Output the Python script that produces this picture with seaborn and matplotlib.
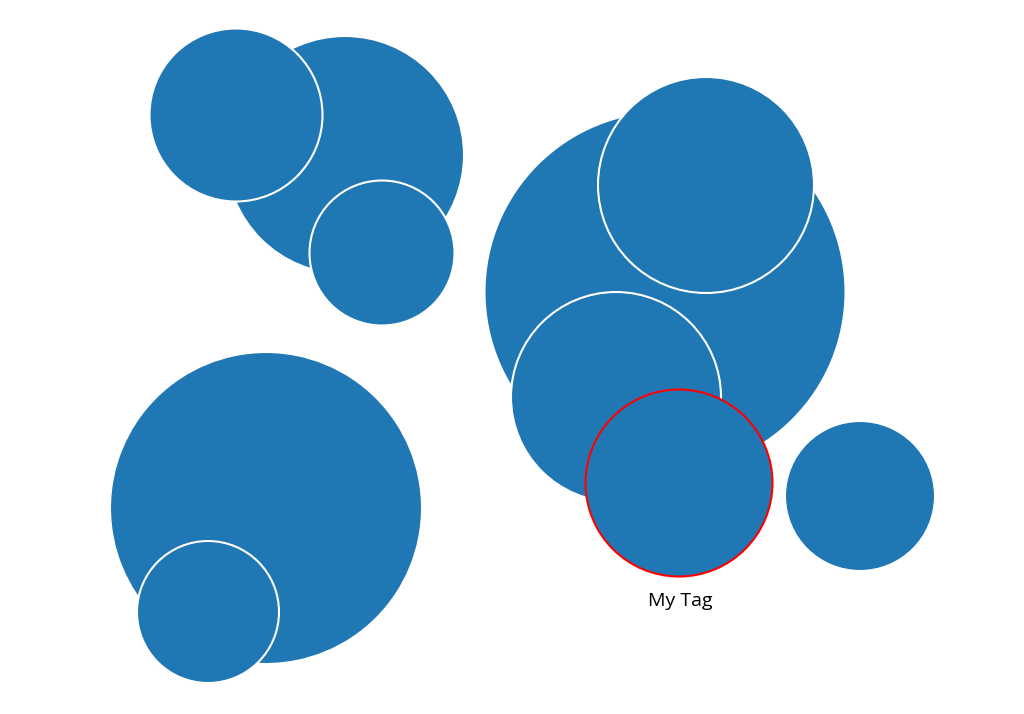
import matplotlib
matplotlib.use("Agg")
import matplotlib.pyplot as plt
import seaborn as sns
import pandas as pd
import numpy as np

sns.set_theme(style="white")
plt.rcParams['font.family'] = ['Open Sans', 'DejaVu Sans']

# bubble data (x, y in canvas units, radius in canvas units)
xs = [345, 236, 382, 665, 706, 616, 679, 860, 266, 208]
ys = [155, 115, 253, 292, 185, 397, 483, 496, 508, 612]
radii = [119, 86.5, 72.5, 180.5, 108, 105, 93.5, 75, 156, 71]
edges = ["white", "white", "white", "white", "white", "white", "red", "white", "white", "white"]
tag_label = "My Tag"
tag_index = 6

W, H, DPI = 1024, 714, 100
fig = plt.figure(figsize=(W / DPI, H / DPI), dpi=DPI)
ax = fig.add_axes([0, 0, 1, 1])
ax.set_xlim(0, W)
ax.set_ylim(H, 0)

df = pd.DataFrame({"x": xs, "y": ys, "r": radii})
sizes = (2 * df["r"].to_numpy() * 72 / DPI) ** 2

sns.scatterplot(data=df, x="x", y="y", s=sizes, color="#1f77b4",
                edgecolor=edges, linewidth=1.5, alpha=1, legend=False, ax=ax)

ax.text(xs[tag_index] + 1, ys[tag_index] + radii[tag_index] + 25, tag_label,
        ha="center", va="center", fontsize=14, color="black")

ax.set_axis_off()
fig.savefig("out.png", dpi=DPI, facecolor="white")
